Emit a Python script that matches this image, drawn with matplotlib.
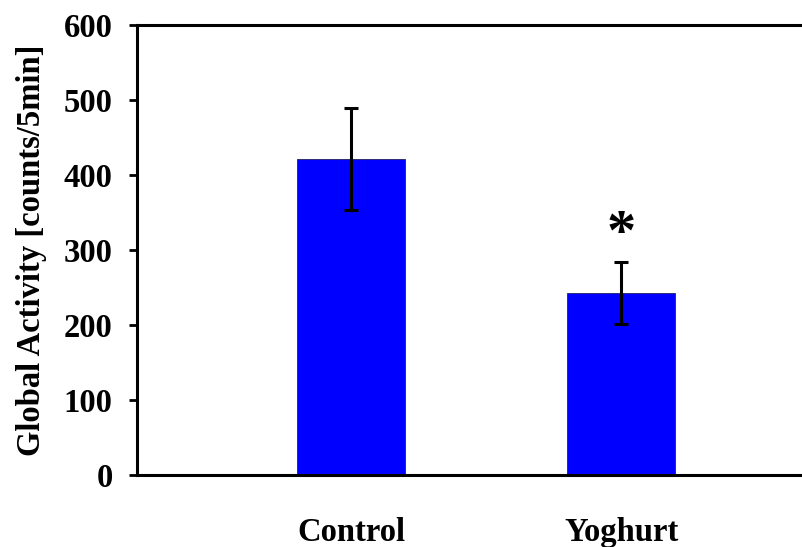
import numpy as np
import matplotlib.pyplot as plt

# data
groups = ['Control', 'Yoghurt']
means = [421, 243]
errs = [68, 41]
star_y = 320

plt.rcParams['font.family'] = ['Liberation Serif', 'DejaVu Serif']
plt.rcParams['font.weight'] = 'bold'

fig = plt.figure(figsize=(8.03, 5.47), dpi=100)
ax = fig.add_axes([137/803, 1 - 475/547, 1 - 137/803 + 0.002, (475 - 25)/547])

x = np.arange(1, len(groups) + 1)
ax.bar(x, means, width=0.40, color='#0000FF', edgecolor='#202060', linewidth=0.6,
       yerr=errs, capsize=5, error_kw=dict(elinewidth=2.2, capthick=2.2, ecolor='black'))
ax.text(x[1], star_y, '*', ha='center', va='center', fontsize=42, fontweight='bold')

ax.set_xlim(0.205, 2.68)
ax.set_ylim(0, 600)
ax.set_yticks(np.arange(0, 601, 100))
ax.set_xticks(x)
ax.set_xticklabels(groups, fontsize=23.5, fontweight='bold')
ax.tick_params(axis='x', length=0, pad=30)
ax.tick_params(axis='y', direction='out', length=5.5, width=2, pad=12, labelsize=23.5)
for lab in ax.get_yticklabels():
    lab.set_fontweight('bold')

ax.spines['right'].set_visible(False)
for s in ['left', 'top', 'bottom']:
    ax.spines[s].set_linewidth(2.2)

ax.set_ylabel('Global Activity [counts/5min]', fontsize=23.5, fontweight='bold', labelpad=12)

fig.savefig('out.png', dpi=100)
